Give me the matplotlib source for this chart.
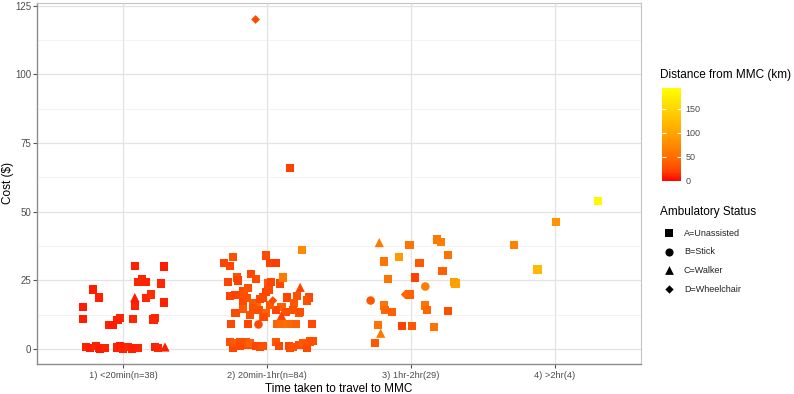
import numpy as np
import matplotlib
matplotlib.use("Agg")
import matplotlib.pyplot as plt
from matplotlib.colors import LinearSegmentedColormap, Normalize
from matplotlib.cm import ScalarMappable

plt.rcParams['font.family'] = ['Liberation Sans', 'DejaVu Sans']

# categories on the x axis
groups = ["1) <20min(n=38)", "2) 20min-1hr(n=84)", "3) 1hr-2hr(29)", "4) >2hr(4)"]
status_labels = {"A": "A=Unassisted", "B": "B=Stick", "C": "C=Walker", "D": "D=Wheelchair"}
status_marker = {"A": "s", "B": "o", "C": "^", "D": "D"}
status_size = {"A": 34, "B": 38, "C": 44, "D": 20}

# group 1: jitter offset, cost, status, distance (km)
g1_jit = [0.08, 0.28, 0.10, 0.13, 0.16, 0.26, -0.21, -0.17, 0.08, 0.19, 0.16, 0.28, -0.28, 0.08,
          -0.28, -0.02, -0.04, 0.07, 0.22, 0.21, -0.10, -0.07,
          -0.26, -0.23, -0.19, -0.17, -0.16, -0.13, -0.04, -0.02, 0.0, 0.03, 0.06, 0.08, 0.10, 0.22, 0.24, 0.29]
g1_cost = [30.4, 30.1, 24.6, 25.4, 24.6, 23.9, 21.7, 18.8, 18.8, 19.9, 18.5, 17.0, 15.2, 15.6,
           10.9, 11.2, 10.5, 10.9, 11.2, 10.8, 8.7, 8.7,
           0.8, 0.3, 1.2, 0.5, 0.0, 0.4, 0.6, 1.0, 0.2, 0.9, 0.1, 0.5, 0.3, 0.9, 0.4, 0.8]
g1_status = "AAAAAAAACAAAAAAAAAAAAA" + "AAAAAAAAAAAAAAAC"
g1_dist = [10, 9, 12, 11, 10, 12, 9, 10, 8, 14, 12, 10, 9, 10,
           9, 11, 10, 12, 13, 11, 10, 9,
           10, 9, 11, 10, 8, 10, 11, 9, 10, 12, 10, 9, 11, 10, 12, 9]

# group 2
g2_jit = [-0.24, -0.01, -0.30, -0.26, 0.02, 0.06, 0.24, 0.16, -0.08,
          -0.27, -0.21, -0.20, -0.11, -0.08, 0.01, 0.03, 0.09, 0.11, 0.23, -0.17, -0.13, -0.01,
          0.29, 0.28, -0.26, -0.22, -0.17, -0.14, -0.10, -0.07, -0.03, 0.04, 0.10, 0.14, 0.21, 0.19, -0.05,
          -0.22, -0.17, -0.06, -0.01, 0.06, 0.13, 0.18, 0.22, -0.03, 0.10, -0.10, -0.02, 0.23,
          -0.25, -0.13, -0.06, 0.07, 0.10, 0.14, 0.17, 0.20, 0.31,
          -0.26, -0.24, -0.22, -0.19, -0.19, -0.15, -0.13, -0.12, -0.08, -0.05, -0.03, 0.06, 0.08,
          0.15, 0.16, 0.18, 0.22, 0.25, 0.28, 0.30, 0.32,
          -0.16, 0.02, 0.01, -0.12]
g2_cost = [33.7, 34.1, 31.5, 30.4, 31.2, 31.5, 36.2, 65.9, 120.0,
           24.3, 26.1, 25.0, 27.2, 25.7, 23.9, 24.5, 23.9, 26.1, 22.5, 21.0, 22.1, 20.7,
           18.8, 17.7, 19.2, 19.6, 17.7, 18.5, 16.7, 15.2, 18.8, 17.7, 15.2, 18.8, 19.2, 16.7, 18.1,
           13.0, 14.5, 14.1, 13.0, 14.1, 13.4, 14.1, 13.0, 11.6, 12.3, 14.9, 11.6, 13.4,
           9.0, 9.0, 9.0, 9.0, 9.0, 9.0, 9.0, 9.0, 9.0,
           2.5, 0.5, 2.4, 2.7, 1.0, 2.6, 1.5, 2.3, 1.0, 0.8, 1.2, 2.5, 1.0,
           1.1, 0.3, 0.8, 1.6, 2.1, 0.6, 2.8, 3.0,
           20.0, 16.0, 21.5, 12.5]
g2_status = ("AAAAAAAAD" + "AAAAAAAAACAAA" + "AAAAAAAAADAAAAA" + "AAAAAAAAACAAA"
             + "AABAAAAAA" + "AAAAAAAAAAAAAAAAAAAAA" + "AAAA")
g2_dist = [30, 25, 20, 22, 20, 18, 75, 20, 25,
           22, 30, 20, 25, 28, 35, 22, 25, 60, 20, 25, 30, 20,
           25, 30, 22, 20, 25, 30, 35, 45, 25, 28, 40, 22, 30, 35, 25,
           25, 35, 30, 40, 22, 28, 30, 35, 40, 20, 30, 25, 28,
           25, 22, 25, 40, 45, 50, 45, 40, 25,
           30, 22, 35, 30, 25, 28, 30, 40, 22, 25, 30, 35, 25,
           22, 25, 30, 28, 35, 25, 30, 28,
           30, 35, 25, 30]

# group 3
g3_jit = [-0.22, -0.01, 0.18, 0.21, 0.26, -0.08, -0.19, 0.06, 0.22, -0.16, 0.03, 0.30, 0.31,
          0.10, -0.04, -0.01, -0.28, -0.19, -0.18, -0.13, 0.10, 0.11, 0.26,
          -0.23, -0.21, -0.06, 0.01, 0.16, -0.25]
g3_cost = [38.8, 38.0, 39.9, 39.1, 34.4, 33.7, 31.9, 31.5, 28.6, 25.7, 26.1, 24.6, 23.9,
           22.8, 19.9, 19.9, 17.7, 15.9, 14.1, 13.4, 15.9, 14.1, 13.8,
           8.7, 5.8, 8.3, 8.3, 8.0, 2.2]
g3_status = "CAAAAAAAAAAAA" + "BDABAAAAAA" + "ACAAAA"
g3_dist = [60, 55, 60, 65, 55, 90, 55, 35, 40, 55, 20, 90, 95,
           65, 45, 40, 35, 55, 45, 40, 55, 45, 30,
           55, 60, 20, 35, 55, 35]

# group 4
g4_jit = [-0.28, -0.12, 0.01, 0.30]
g4_cost = [38.0, 29.0, 46.4, 54.0]
g4_status = "AAAA"
g4_dist = [70, 120, 85, 185]

jit_all = [g1_jit, g2_jit, g3_jit, g4_jit]
cost_all = [g1_cost, g2_cost, g3_cost, g4_cost]
status_all = [g1_status, g2_status, g3_status, g4_status]
dist_all = [g1_dist, g2_dist, g3_dist, g4_dist]

# red -> yellow, roughly like ggplot's Lab gradient
cmap = LinearSegmentedColormap.from_list("ry", [(0, "#FF0000"), (0.1, "#FF4100"), (0.25, "#FF6C00"),
                                                (0.5, "#FFA100"), (0.75, "#FFD100"), (1, "#FFFF00")])
norm = Normalize(vmin=0, vmax=193)

fig = plt.figure(figsize=(7.94, 3.94), dpi=100)
ax = fig.add_axes([37 / 794, 1 - 364 / 394, (641 - 37) / 794, 361 / 394])

x = []
y = []
st = []
d = []
for i in range(4):
    x += [i + 1 + j for j in jit_all[i]]
    y += cost_all[i]
    st += list(status_all[i])
    d += dist_all[i]
x = np.array(x)
y = np.array(y)
st = np.array(st)
d = np.array(d, dtype=float)

for k in "ABCD":
    m = st == k
    if m.sum() == 0:
        continue
    ax.scatter(x[m], y[m], c=d[m], cmap=cmap, norm=norm, marker=status_marker[k],
               s=status_size[k], linewidths=0, zorder=3)

ax.set_xlim(0.4, 4.6)
ax.set_ylim(-5.4, 126)
ax.set_xticks([1, 2, 3, 4])
ax.set_xticklabels(groups)
ax.set_yticks([0, 25, 50, 75, 100, 125])
ax.set_yticks([12.5, 37.5, 62.5, 87.5, 112.5], minor=True)
ax.grid(which="major", color="#E3E3E3", lw=0.9)
ax.grid(which="minor", axis="y", color="#EEEEEE", lw=0.5)
ax.set_axisbelow(True)
ax.tick_params(axis="x", which="major", labelsize=6.7, labelcolor="#4D4D4D",
               color="#555555", length=3, width=0.8, pad=2)
ax.tick_params(axis="y", which="major", labelsize=7, labelcolor="#4D4D4D",
               color="#555555", length=3, width=0.8, pad=1)
ax.tick_params(axis="y", which="minor", length=0)
for side in ["left", "bottom"]:
    ax.spines[side].set_color("#8C8C8C")
    ax.spines[side].set_linewidth(1)
for side in ["top", "right"]:
    ax.spines[side].set_color("#C4C4C4")
    ax.spines[side].set_linewidth(0.8)
ax.set_xlabel("Time taken to travel to MMC", fontsize=8.5, labelpad=2)
# y title placed by hand so it sits inside the figure
fig.text(8 / 794, 1 - 183 / 394, "Cost ($)", fontsize=8.5, rotation=90, ha="center", va="center")

# colour legend
fig.text(660 / 794, 1 - 75 / 394, "Distance from MMC (km)", fontsize=8.5, va="center", ha="left")
cax = fig.add_axes([662 / 794, 1 - 181 / 394, 19 / 794, 93 / 394])
cb = fig.colorbar(ScalarMappable(norm=norm, cmap=cmap), cax=cax)
cb.outline.set_visible(False)
cb.set_ticks([0, 50, 100, 150])
cax.tick_params(direction="in", color="white", length=3, width=0.8, left=True, right=True,
                labelsize=6.5, labelcolor="#4D4D4D", pad=3)

# shape legend
fig.text(660 / 794, 1 - 212 / 394, "Ambulatory Status", fontsize=8.5, va="center", ha="left")
lax = fig.add_axes([0, 0, 1, 1])
lax.set_xlim(0, 794)
lax.set_ylim(394, 0)
lax.axis("off")
for row, k in enumerate("ABCD"):
    yy = 233 + row * 18.7
    lax.scatter([669], [yy], marker=status_marker[k], s=status_size[k] * 0.9, c="black", linewidths=0)
    lax.text(684, yy, status_labels[k], fontsize=6.5, va="center", ha="left", color="#222222")

fig.savefig("out.png", dpi=100)
